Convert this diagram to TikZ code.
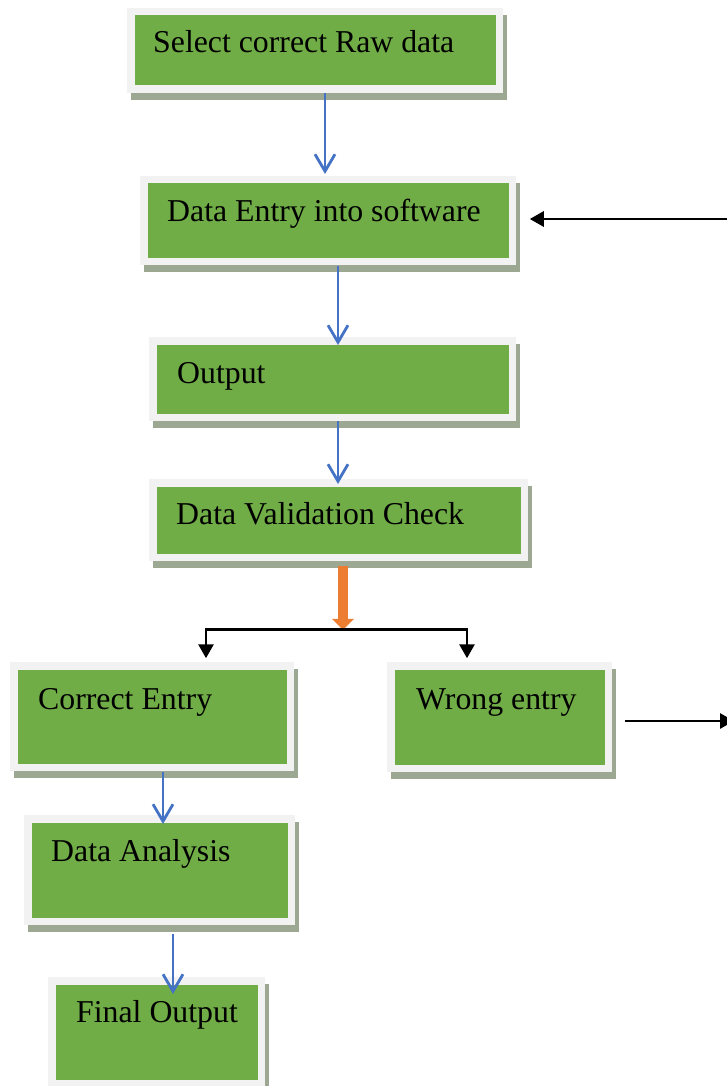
\documentclass[tikz,border=0pt]{standalone}
\usepackage{fontspec}
\setmainfont{Liberation Serif}
\usetikzlibrary{arrows.meta,calc}
\definecolor{boxgreen}{HTML}{70AD47}
\definecolor{framec}{HTML}{F2F2F2}
\definecolor{shadowc}{RGB}{156,168,146}
\definecolor{flowblue}{HTML}{4472C4}
\definecolor{floworange}{HTML}{ED7D31}
\begin{document}
\begin{tikzpicture}[x=1pt,y=-1pt,
  box/.style={rectangle, inner sep=0pt, fill=boxgreen, draw=framec, line width=7.5pt,
    preaction={draw=shadowc, fill=shadowc, transform canvas={shift={(4pt,-7pt)}}}},
  lbl/.style={anchor=base west, inner sep=0pt, font=\fontsize{31.8}{38}\selectfont},
  flow/.style={draw=flowblue, line width=2.8pt, -{Straight Barb[length=17pt,width=20pt]}},
  blk/.style={draw=black, line width=2.8pt, -{Triangle[length=14pt,width=15pt]}},
  orangearrow/.style={draw=floworange, line width=10pt, -{Triangle[length=11pt,width=22pt,line width=0pt]}}]
\fill[white] (0,0) rectangle (727,1086);
\clip (0,0) rectangle (727,1086);

% boxes
\node[box, minimum width=368.5pt, minimum height=77.5pt] (b1) at (315,50.5) {};
\node[box, minimum width=368.5pt, minimum height=81.5pt] (b2) at (328,220.5) {};
\node[box, minimum width=359.5pt, minimum height=76.5pt] (b3) at (332.5,379) {};
\node[box, minimum width=371.5pt, minimum height=74.5pt] (b4) at (338.5,520) {};
\node[box, minimum width=276.5pt, minimum height=101.5pt] (b5) at (152,716.5) {};
\node[box, minimum width=217.5pt, minimum height=102.5pt] (b6) at (499.5,717) {};
\node[box, minimum width=263.5pt, minimum height=102.5pt] (b7) at (159.5,870) {};
\node[box, minimum width=209.5pt, minimum height=102.5pt] (b8) at (156.5,1032) {};

% texts
\node[lbl] (t1) at (153,53) {Select correct Raw data};
\node[lbl] (t2) at (167,222) {Data Entry into software};
\node[lbl] (t3) at (177,383) {Output};
\node[lbl] (t4) at (176,524) {Data Validation Check};
\node[lbl] (t5) at (38,709) {Correct Entry};
\node[lbl] (t6) at (416,709) {Wrong entry};
\node[lbl] (t7) at (51,861) {Data Analysis};
\node[lbl] (t8) at (76,1022) {Final Output};

% free ends
\coordinate (split) at ($(b4.south)+(4.5,68.75)$);
\coordinate (backin) at (730,219);
\coordinate (wrongout) at (734,721);

% blue flow arrows
\draw[flow] ($(b1.south)+(10,0.5)$) -- ($(b1.south |- b2.north)+(10,-2)$);
\draw[flow] ($(b2.south)+(10,0.5)$) -- ($(b2.south |- b3.north)+(10,8)$);
\draw[flow] ($(b3.south)+(5.5,0)$) -- ($(b3.south |- b4.north)+(5.5,5)$);
\draw[flow] ($(b5.south)+(11,0.5)$) -- ($(b5.south |- b7.north)+(11,9)$);
\draw[flow] ($(b7.south)+(13.5,9)$) -- ($(b7.south |- b8.north)+(13.5,17)$);

% orange arrow and branching
\draw[orangearrow] ($(b4.south)+(4.5,4.5)$) -- (split);
\draw[blk] (split) -| ($(b5.north)+(54,-3.75)$);
\draw[blk] (split) -| ($(b6.north)+(-32.5,-3.75)$);

% feedback arrows
\draw[blk] (backin) -- ($(b2.east)+(13.75,-1.5)$);
\draw[blk] ($(b6.east)+(12.75,4)$) -- (wrongout);
\end{tikzpicture}
\end{document}
